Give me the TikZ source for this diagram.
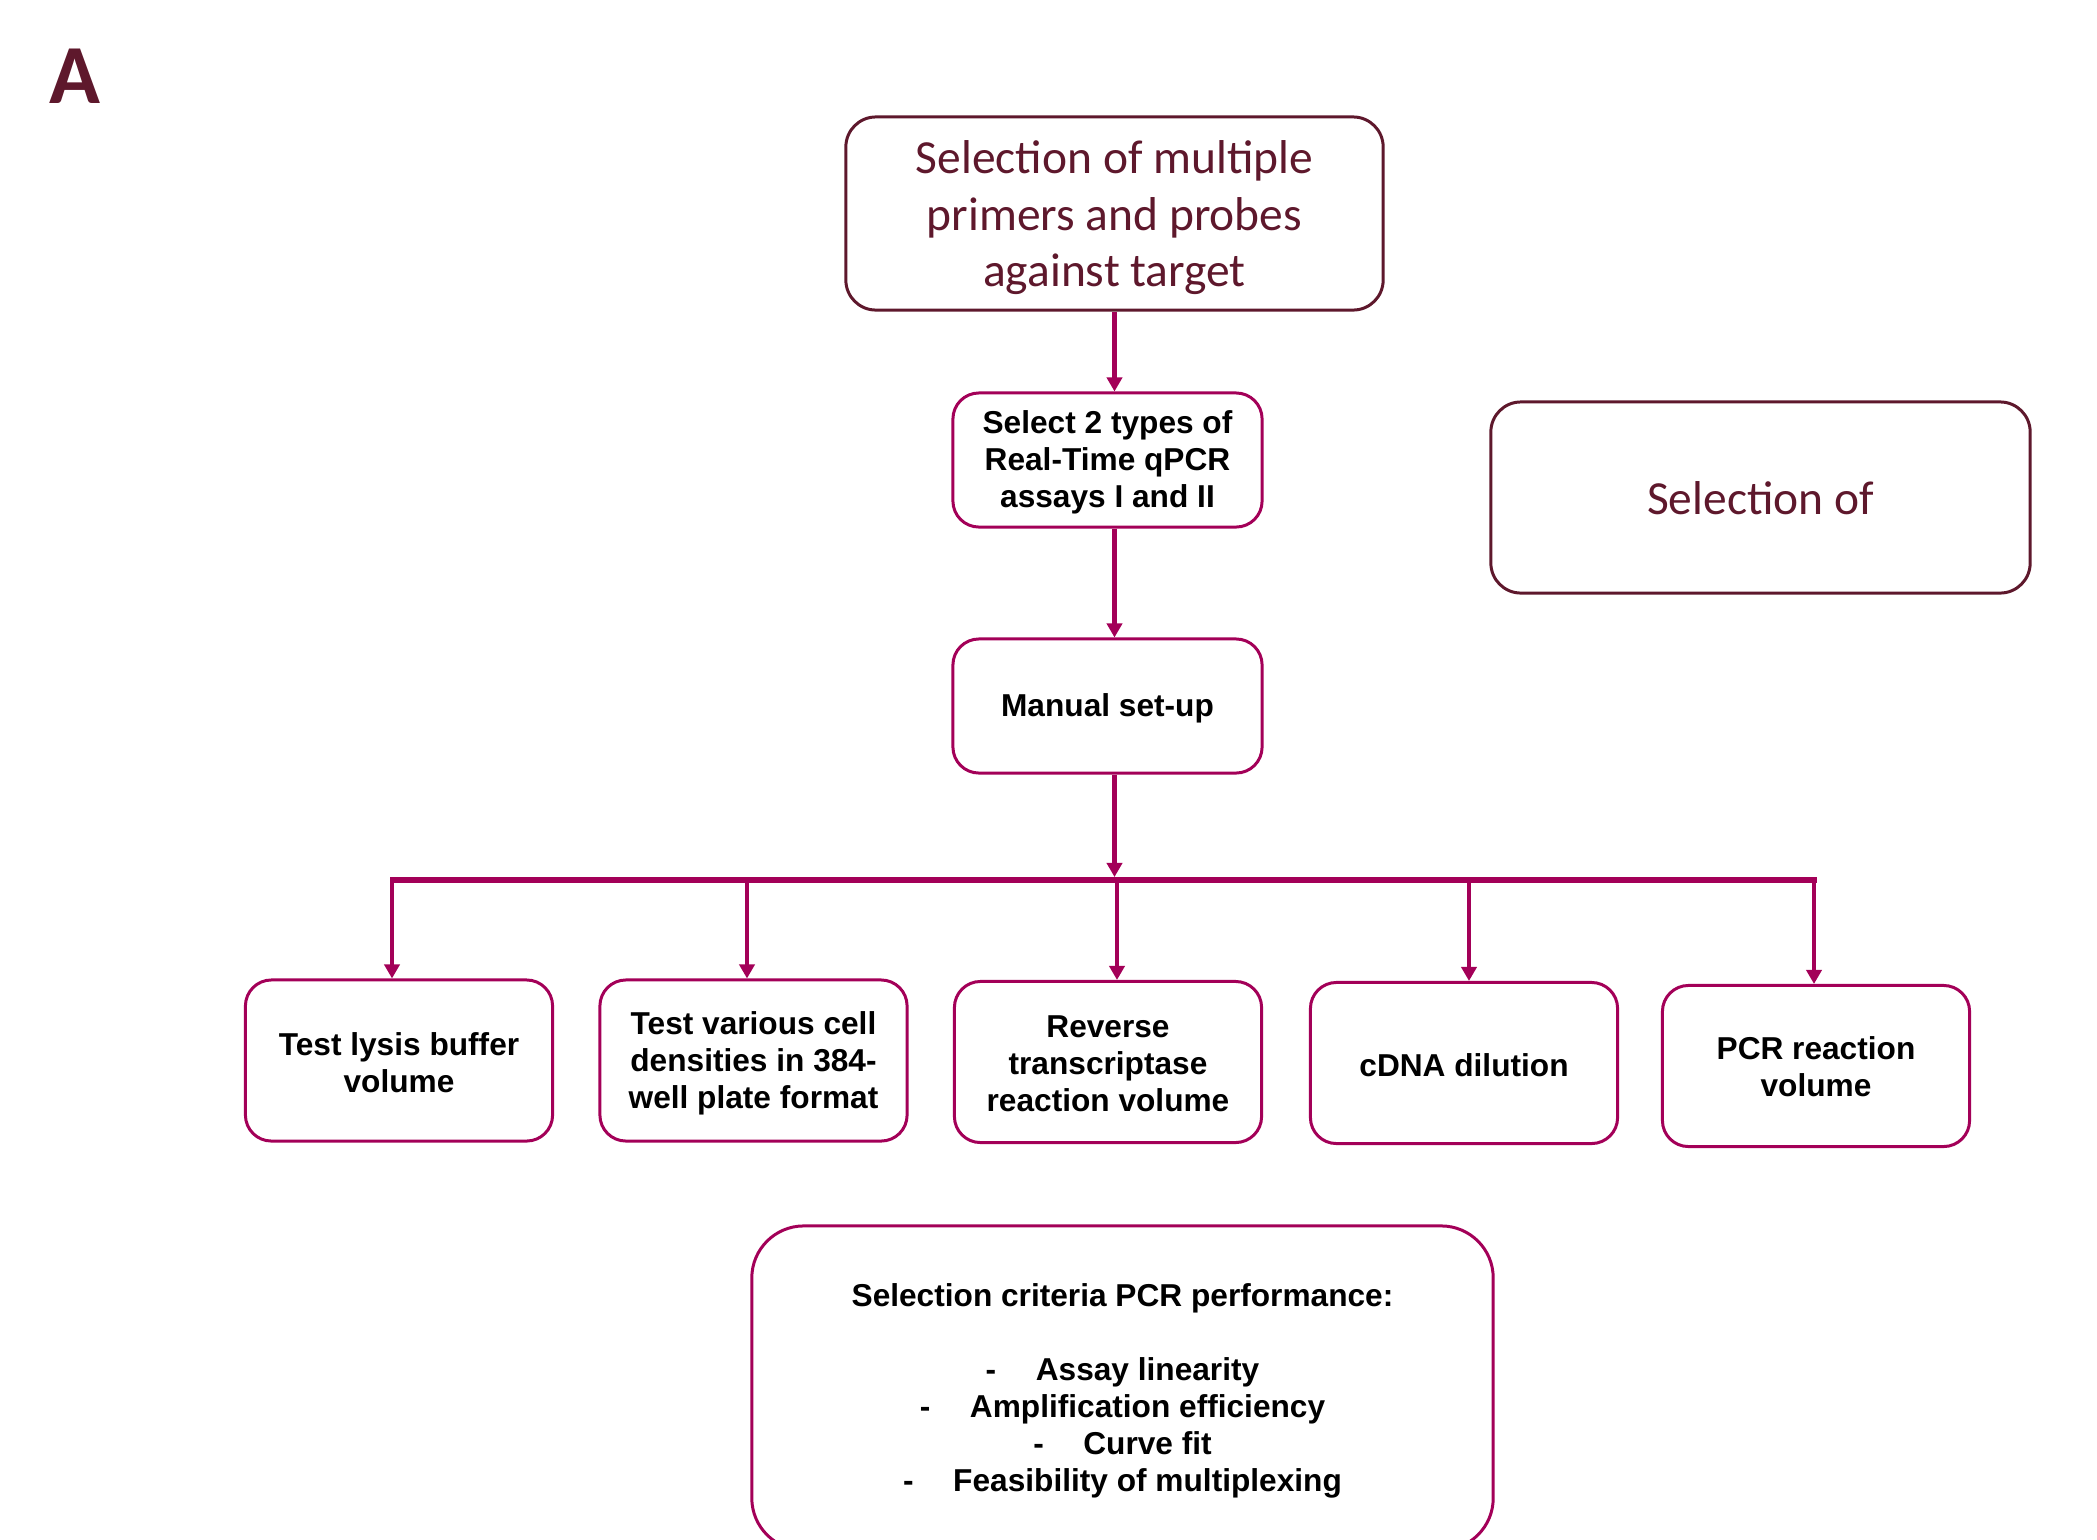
\documentclass[tikz,border=0pt]{standalone}
\usepackage{fontspec}
\setmainfont{Liberation Sans}
\newfontfamily\calfont{Carlito}
\usetikzlibrary{arrows.meta,positioning}
\definecolor{maroon}{RGB}{94,24,44}
\definecolor{plum}{RGB}{163,0,88}
\newcommand\biglift[1][11.8pt]{\rule{0pt}{#1}}
\newcommand\steplift[1][8pt]{\rule{0pt}{#1}}
\begin{document}
\begin{tikzpicture}[x=0.01cm, y=-0.01cm,
  >={Triangle[width=4.3pt,length=4pt]},
  bigbox/.style={draw=maroon, line width=0.85pt, rounded corners=0.3cm,
    text=maroon, align=center, inner sep=0pt,
    font=\calfont\fontsize{13.5}{16}\selectfont},
  stepbox/.style={draw=plum, line width=0.85pt, rounded corners=0.26cm,
    align=center, inner sep=0pt, minimum width=3.07cm, minimum height=1.61cm,
    font=\bfseries\fontsize{9}{10.5}\selectfont},
  flow/.style={->, draw=plum, line width=1.4pt},
  drop/.style={->, draw=plum, line width=1.3pt}]
\useasboundingbox (0,0) rectangle (2097,1539);
\clip (0,0) rectangle (2097,1539);
\node (panel) [anchor=base west, inner sep=0pt, text=maroon,
  font=\calfont\bfseries\fontsize{23.9}{28}\selectfont] at (49,103) {A};
\node (target) [bigbox, minimum width=5.37cm, minimum height=1.93cm]
  at (1114.5,213.5) {\biglift Selection of multiple\\primers and probes\\against target};
\node (choice) [bigbox, minimum width=5.39cm, minimum height=1.91cm]
  at (1760.5,497.5) {\biglift[9.5pt]Selection of};
\node (assays) [stepbox, minimum width=3.09cm, minimum height=1.34cm]
  at (1107.5,460) {\steplift Select 2 types of\\Real-Time qPCR\\assays I and II};
\node (manual) [stepbox, minimum width=3.09cm, minimum height=1.34cm]
  at (1107.5,706) {\steplift Manual set-up};
\node (lysis) [stepbox] at (399,1060.5) {\steplift Test lysis buffer\\volume};
\node (dens) [stepbox] at (753.5,1060.5) {\steplift Test various cell\\densities in 384-\\well plate format};
\node (rt) [stepbox] at (1108,1062) {\steplift[7pt]Reverse\\transcriptase\\reaction volume};
\node (cdna) [stepbox] at (1464,1063) {\steplift cDNA dilution};
\node (pcr) [stepbox] at (1816,1066) {\steplift[7pt]PCR reaction\\volume};
\node (criteria) [stepbox, rounded corners=0.52cm, minimum width=7.41cm,
  minimum height=3.24cm] at (1122.5,1388)
  {\steplift Selection criteria PCR performance:\\[10.5pt]
   -\hspace{1.25em}Assay linearity\\
   -\hspace{1.25em}Amplification efficiency\\
   -\hspace{1.25em}Curve fit\\
   -\hspace{1.25em}Feasibility of multiplexing};
\coordinate (barL) at (390,880);
\coordinate (barR) at (1817,880);
\coordinate (hub) at (1114.5,877);
\draw[flow] (target.south) -- (target.south |- assays.north);
\draw[flow] (target.south |- assays.south) -- (target.south |- manual.north);
\draw[flow] (target.south |- manual.south) -- (hub);
\draw[plum, line width=1.7pt] (barL) -- (barR);
\foreach \stage/\xpos in {lysis/392, dens/747, rt/1117, cdna/1469, pcr/1814} {
  \coordinate (d-\stage) at (\xpos,880);
  \draw[drop] (d-\stage) -- (d-\stage |- \stage.north);
}
\end{tikzpicture}
\end{document}
